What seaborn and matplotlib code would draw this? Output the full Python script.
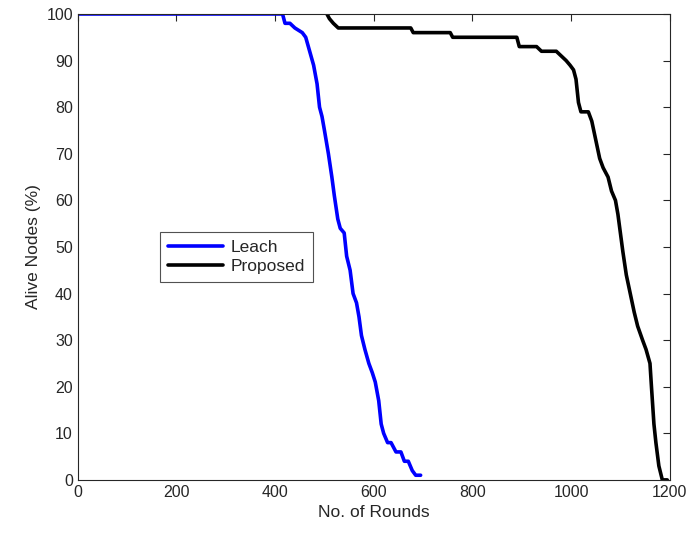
import numpy as np
import pandas as pd
import seaborn as sns
import matplotlib
matplotlib.use('Agg')
import matplotlib.pyplot as plt

# Leach: rounds vs alive nodes (%)
leach_rounds = [0, 415, 420, 430, 440, 455, 462, 470, 478, 485, 490, 495, 500, 508, 515, 520,
                527, 532, 540, 545, 552, 558, 565, 570, 575, 582, 590, 597, 603, 610, 615,
                620, 628, 635, 645, 655, 662, 670, 678, 685, 695]
leach_alive = [100, 100, 98, 98, 97, 96, 95, 92, 89, 85, 80, 78, 75, 70, 65, 61,
               56, 54, 53, 48, 45, 40, 38, 35, 31, 28, 25, 23, 21, 17, 12,
               10, 8, 8, 6, 6, 4, 4, 2, 1, 1]

# Proposed
prop_rounds = [505, 510, 518, 528, 535, 600, 675, 680, 755, 760, 890, 895, 930, 940, 970,
               980, 990, 998, 1005, 1010, 1015, 1020, 1035, 1042, 1050, 1058, 1065, 1075,
               1082, 1090, 1095, 1100, 1105, 1112, 1120, 1128, 1135, 1145, 1152, 1160,
               1163, 1168, 1172, 1178, 1185, 1195]
prop_alive = [100, 99, 98, 97, 97, 97, 97, 96, 96, 95, 95, 93, 93, 92, 92,
              91, 90, 89, 88, 86, 81, 79, 79, 77, 73, 69, 67, 65, 62, 60, 57,
              53, 49, 44, 40, 36, 33, 30, 28, 25, 20, 12, 8, 3, 0, 0]

df = pd.concat([
    pd.DataFrame({'rounds': leach_rounds, 'alive': leach_alive, 'method': 'Leach'}),
    pd.DataFrame({'rounds': prop_rounds, 'alive': prop_alive, 'method': 'Proposed'}),
])

sns.set_style('white')
plt.rcParams['font.family'] = ['Liberation Sans', 'DejaVu Sans']

fig = plt.figure(figsize=(6.89, 5.38), dpi=100)
ax = fig.add_axes([0.113, 0.108, 0.859, 0.866])

sns.lineplot(data=df, x='rounds', y='alive', hue='method', sort=False, estimator=None,
             palette={'Leach': '#0000ff', 'Proposed': '#000000'}, linewidth=2.6, ax=ax)

ax.set_xlim(0, 1200)
ax.set_ylim(0, 100)
ax.set_xticks(np.arange(0, 1201, 200))
ax.set_yticks(np.arange(0, 101, 10))
ax.tick_params(direction='in', top=True, right=True, length=5, width=0.8,
               colors='#262626', labelsize=11.5)
for s in ax.spines.values():
    s.set_color('#262626')
    s.set_linewidth(0.8)

ax.set_xlabel('No. of Rounds', fontsize=12.5, color='#262626')
ax.set_ylabel('Alive Nodes (%)', fontsize=12.5, color='#262626')

leg = ax.legend(loc='lower left', bbox_to_anchor=(0.139, 0.425), fontsize=12.5,
                frameon=True, fancybox=False, edgecolor='#262626',
                borderpad=0.45, handlelength=3.2, labelspacing=0.25, handletextpad=0.4,
                borderaxespad=0)
leg.get_frame().set_linewidth(0.8)

fig.savefig('out.png', dpi=100)
